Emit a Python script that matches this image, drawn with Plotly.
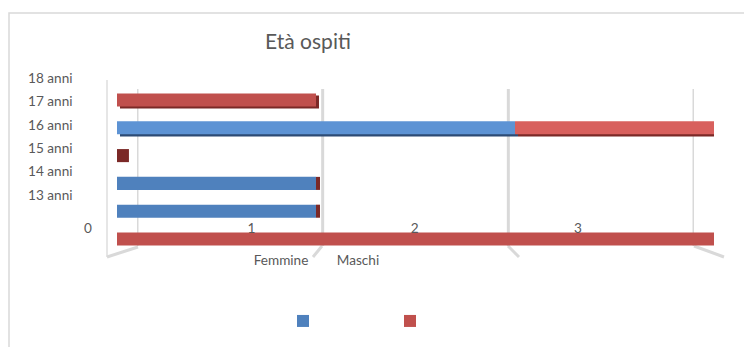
import plotly.graph_objects as go

W, H = 744, 347

# Bar rows, bottom to top
bar_rows = ["r0", "r13", "r14", "r15", "r16", "r17"]
femmine = [0, 1, 1, 0, 2, 0]
maschi = [3, 0, 0, 0, 1, 1]
depth = [0, 0.02, 0.02, 0.06, 0, 0]  # visible end faces of empty 3-D bars

# Axis texts
age_labels = ["13 anni", "14 anni", "15 anni", "16 anni", "17 anni", "18 anni"]
value_ticks = [0, 1, 2, 3]
sex_labels = ["Femmine", "Maschi"]

BLUE, BLUE_LIGHT, BLUE_DARK = "#4f81bd", "#5d93d4", "#2d4b75"
RED, RED_LIGHT, RED_DARK = "#c0504d", "#d8605d", "#7b2927"
GRID = "#d9d9d9"
TEXT = "#595959"
FONT = "Lato"
BAR_W = 0.47
SHADE_FROM_ROW = 4  # upper rows show their dark underside

def fx(p):
    return p / W


def fy(p):
    return 1 - p / H


fem_colors = [BLUE_LIGHT if v == max(femmine) else BLUE for v in femmine]
mas_colors = [RED_LIGHT if f > 0 and m > 0 else RED for f, m in zip(femmine, maschi)]
mas_base = femmine
depth_base = [f + m for f, m in zip(femmine, maschi)]

fig = go.Figure()

# back-wall gridlines, one vertical line per value tick
gx, gy = [], []
for v in value_ticks:
    gx += [v, v, None]
    gy += [0, 1, None]
fig.add_trace(go.Scatter(x=gx, y=gy, mode="lines", line=dict(color=GRID, width=3),
                         showlegend=False, hoverinfo="skip", xaxis="x", yaxis="y"))

# dark undersides of the upper bars
shade = [i >= SHADE_FROM_ROW for i in range(len(bar_rows))]
for vals, base, col in [(femmine, [0] * len(femmine), BLUE_DARK), (maschi, mas_base, RED_DARK)]:
    fig.add_trace(go.Bar(
        x=[v if s else 0 for v, s in zip(vals, shade)], base=[b + 0.015 for b in base],
        y=bar_rows, orientation="h", showlegend=False, width=BAR_W,
        offset=-BAR_W / 2 - 0.075, marker=dict(color=col, line=dict(width=0)),
        xaxis="x2", yaxis="y2", hoverinfo="skip",
    ))

fig.add_trace(go.Bar(
    x=femmine, y=bar_rows, orientation="h", name="",
    marker=dict(color=fem_colors, line=dict(width=0)), width=BAR_W,
    xaxis="x2", yaxis="y2", hoverinfo="skip",
))
fig.add_trace(go.Bar(
    x=maschi, base=mas_base, y=bar_rows, orientation="h", name="",
    marker=dict(color=mas_colors, line=dict(width=0)), width=BAR_W,
    xaxis="x2", yaxis="y2", hoverinfo="skip",
))
fig.add_trace(go.Bar(
    x=depth, base=depth_base, y=bar_rows, orientation="h", showlegend=False,
    marker=dict(color=RED_DARK, line=dict(width=0)), width=BAR_W,
    xaxis="x2", yaxis="y2", hoverinfo="skip",
))

# empty traces so the label-only axes get drawn
fig.add_trace(go.Scatter(x=[None], y=[None], mode="markers", showlegend=False,
                         hoverinfo="skip", xaxis="x3", yaxis="y3"))
fig.add_trace(go.Scatter(x=[None], y=[None], mode="markers", showlegend=False,
                         hoverinfo="skip", xaxis="x4", yaxis="y3"))

tick_font = dict(family=FONT, size=13.6, color=TEXT)
hidden = dict(showgrid=False, zeroline=False, showline=False, showticklabels=False,
              ticks="", fixedrange=True, automargin=False)
label_ax = dict(showgrid=False, zeroline=False, showline=False, ticks="",
                tickfont=tick_font, fixedrange=True, automargin=False)

fig.update_layout(
    width=W, height=H,
    margin=dict(l=0, r=0, t=0, b=0, autoexpand=False),
    paper_bgcolor="white", plot_bgcolor="rgba(0,0,0,0)",
    barmode="overlay",
    title=dict(text="Età ospiti", x=fx(308), xanchor="center", y=fy(42), yanchor="middle",
               font=dict(family=FONT, size=21, color=TEXT)),
    # back wall
    xaxis=dict(domain=[fx(137), fx(694)], range=[0, 3], anchor="y", **hidden),
    yaxis=dict(domain=[fy(246), fy(89)], range=[0, 1], anchor="x", **hidden),
    # bars
    xaxis2=dict(domain=[fx(117), fx(714)], range=[0, 3], anchor="y2", **hidden),
    yaxis2=dict(domain=[fy(252.9), fy(86.1)], type="category", categoryorder="array",
                categoryarray=bar_rows, range=[-0.5, 5.5], anchor="x2", **hidden),
    # value labels
    xaxis3=dict(domain=[fx(88), fx(578)], range=[0, 3], tickvals=value_ticks,
                anchor="free", position=fy(218), **label_ax),
    # age labels
    yaxis3=dict(domain=[fy(206.7), fy(66.3)], range=[-0.5, 5.5], tickvals=list(range(len(age_labels))),
                ticktext=age_labels, anchor="free", position=fx(72.5), **label_ax),
    # series labels
    xaxis4=dict(domain=[fx(242.5), fx(396.5)], range=[-0.5, 1.5], tickvals=[0, 1],
                ticktext=sex_labels, anchor="free", position=fy(250), **label_ax),
    legend=dict(orientation="h", traceorder="normal", x=fx(283), xanchor="left", y=fy(321),
                yanchor="middle", entrywidth=62, entrywidthmode="pixels",
                font=dict(family=FONT, size=13, color=TEXT), bgcolor="rgba(0,0,0,0)"),
    showlegend=True,
)

# chart frame, side wall and floor edges
deco = dict(color=GRID, width=3)
fig.add_shape(type="rect", xref="paper", yref="paper", x0=fx(9), y0=fy(13), x1=fx(800), y1=fy(400),
              line=dict(color="#d9d9d9", width=1.5), layer="below")
fig.add_shape(type="line", xref="paper", yref="paper", x0=fx(107), y0=fy(80), x1=fx(107), y1=fy(257),
              line=dict(color="#e6e6e6", width=2), layer="below")
for (ax0, ay0, ax1, ay1) in [(107, 257, 138, 247), (322, 246, 313, 257),
                             (508, 246, 519, 257), (694, 246, 724, 257)]:
    fig.add_shape(type="line", xref="paper", yref="paper", x0=fx(ax0), y0=fy(ay0),
                  x1=fx(ax1), y1=fy(ay1), line=deco, layer="below")

fig.write_html("out.html")
